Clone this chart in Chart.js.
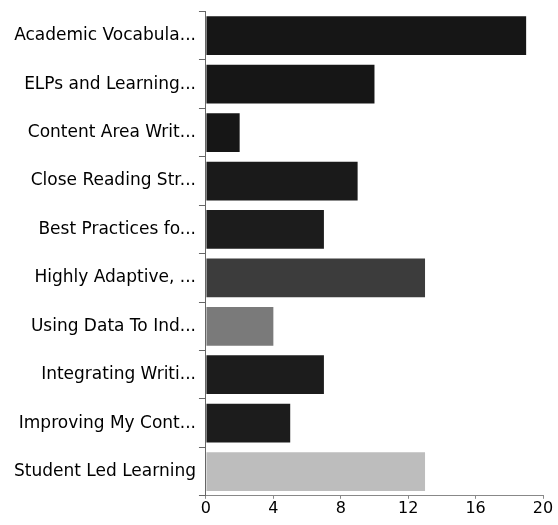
<!DOCTYPE html>
<html>
<head>
<meta charset="utf-8">
<script src="https://cdn.jsdelivr.net/npm/chart.js@4"></script>
<style>
  html, body { margin: 0; padding: 0; background: #fff; }
  #wrap { width: 558px; height: 525px; }
</style>
</head>
<body>
<div id="wrap"><canvas id="chart" width="558" height="525"></canvas></div>
<script>
// session titles (cut short as in the source)
const categories = [
  'Academic Vocabula...',
  'ELPs and Learning...',
  'Content Area Writ...',
  'Close Reading Str...',
  'Best Practices fo...',
  'Highly Adaptive, ...',
  'Using Data To Ind...',
  'Integrating Writi...',
  'Improving My Cont...',
  'Student Led Learning'
];
const counts = [19, 10, 2, 9, 7, 13, 4, 7, 5, 13];
const barColors = ['#161616', '#161616', '#161616', '#1a1a1a', '#1c1c1c',
                   '#3c3c3c', '#7a7a7a', '#1c1c1c', '#1c1c1c', '#bdbdbd'];
const xTicks = [0, 4, 8, 12, 16, 20];

const ctx = document.getElementById('chart').getContext('2d');
new Chart(ctx, {
  type: 'bar',
  data: {
    labels: categories,
    datasets: [{
      data: counts,
      backgroundColor: barColors,
      borderWidth: 0,
      barPercentage: 1.0,
      categoryPercentage: 0.8
    }]
  },
  options: {
    indexAxis: 'y',
    responsive: false,
    animation: false,
    layout: { padding: { top: 4, right: 15, bottom: 7, left: 11 } },
    plugins: {
      legend: { display: false },
      tooltip: { enabled: false }
    },
    scales: {
      x: {
        min: 0,
        max: 20,
        afterBuildTicks: axis => { axis.ticks = xTicks.map(v => ({ value: v })); },
        grid: { drawOnChartArea: false, drawTicks: true, tickLength: 3, color: '#888' },
        border: { display: true, color: '#888', width: 1 },
        ticks: {
          color: '#000',
          padding: 0,
          font: { family: 'DejaVu Sans, sans-serif', size: 16 }
        }
      },
      y: {
        grid: { drawOnChartArea: false, drawTicks: true, tickLength: 7, color: '#666' },
        border: { display: true, color: '#666', width: 1 },
        ticks: {
          color: '#000',
          padding: 3,
          autoSkip: false,
          font: { family: 'DejaVu Sans, sans-serif', size: 17, lineHeight: 1.0 }
        }
      }
    }
  }
});
</script>
</body>
</html>
